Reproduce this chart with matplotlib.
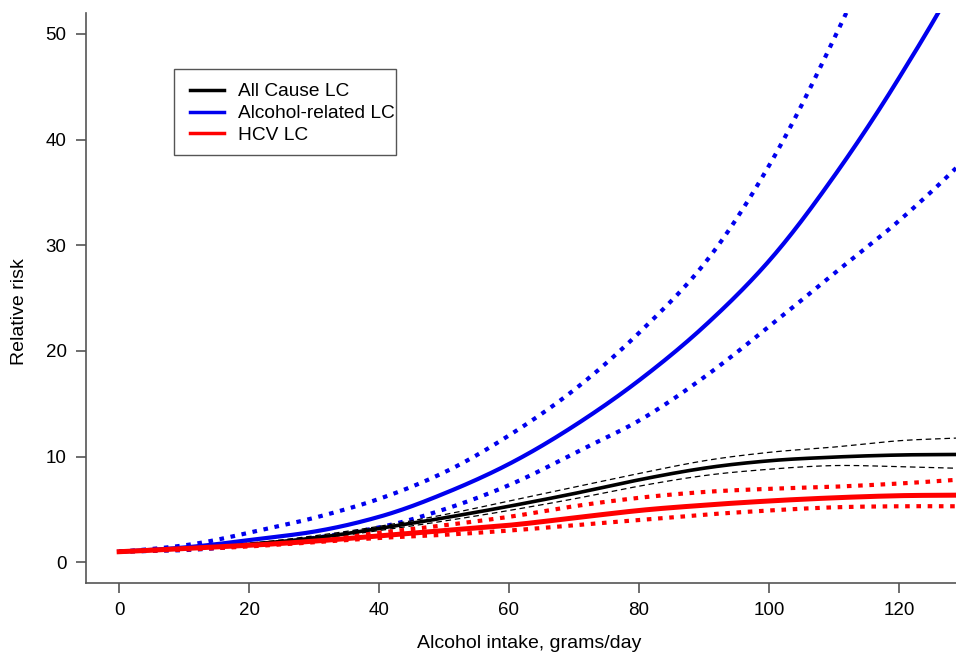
import numpy as np
import matplotlib
matplotlib.use("Agg")
import matplotlib.pyplot as plt
from matplotlib.patches import Rectangle

plt.rcParams['font.family'] = ['Liberation Sans', 'DejaVu Sans']

# alcohol intake (grams/day)
x_pts = [0, 10, 20, 30, 40, 50, 60, 70, 80, 90, 100, 110, 120, 128.8]

# Alcohol-related LC: estimate, upper and lower bounds
alc_rr = [1, 1.4, 2.1, 2.9, 4.3, 6.5, 9.3, 12.9, 17.2, 22.3, 28.5, 36.5, 45.8, 55.0]
alc_hi = [1, 1.6, 2.8, 4.2, 6.0, 8.5, 12.0, 16.3, 21.7, 28.2, 37.5, 49.5, 63.0, 76.0]
alc_lo = [1, 1.15, 1.6, 2.3, 3.3, 5.0, 7.3, 10.3, 13.4, 17.5, 22.3, 27.3, 32.3, 37.3]

# All cause LC
all_rr = [1, 1.3, 1.7, 2.3, 3.2, 4.2, 5.3, 6.5, 7.8, 8.9, 9.6, 9.95, 10.15, 10.2]
all_hi = [1, 1.35, 1.8, 2.5, 3.4, 4.5, 5.8, 7.1, 8.4, 9.6, 10.4, 10.9, 11.5, 11.75]
all_lo = [1, 1.25, 1.6, 2.2, 3.0, 3.9, 4.9, 6.0, 7.2, 8.2, 8.8, 9.15, 9.05, 8.9]

# HCV LC
hcv_rr = [1, 1.3, 1.6, 2.0, 2.5, 3.0, 3.5, 4.2, 4.9, 5.4, 5.8, 6.1, 6.3, 6.35]
hcv_hi = [1, 1.35, 1.7, 2.2, 2.8, 3.5, 4.3, 5.3, 6.1, 6.65, 6.95, 7.15, 7.45, 7.8]
hcv_lo = [1, 1.2, 1.5, 1.9, 2.3, 2.6, 3.0, 3.5, 4.0, 4.5, 4.9, 5.2, 5.3, 5.3]

legend_labels = ['All Cause LC', 'Alcohol-related LC', 'HCV LC']
x_ticks = [0, 20, 40, 60, 80, 100, 120]
y_ticks = [0, 10, 20, 30, 40, 50]


def smooth(xp, yp):
    # cubic hermite through the points, on a log scale
    xp = np.asarray(xp, float)
    ly = np.log(yp)
    xs = np.linspace(xp[0], xp[-1], 400)
    out = np.interp(xs, xp, ly)
    n = len(xp)
    for i in range(n - 1):
        m = (xs >= xp[i]) & (xs <= xp[i + 1])
        h = xp[i + 1] - xp[i]
        t = (xs[m] - xp[i]) / h
        d0 = (ly[min(i + 1, n - 1)] - ly[max(i - 1, 0)]) / (xp[min(i + 1, n - 1)] - xp[max(i - 1, 0)]) * h
        d1 = (ly[min(i + 2, n - 1)] - ly[i]) / (xp[min(i + 2, n - 1)] - xp[i]) * h
        h00 = 2 * t**3 - 3 * t**2 + 1
        h10 = t**3 - 2 * t**2 + t
        h01 = -2 * t**3 + 3 * t**2
        h11 = t**3 - t**2
        out[m] = h00 * ly[i] + h10 * d0 + h01 * ly[i + 1] + h11 * d1
    return xs, np.exp(out)


W, H = 956, 662
fig = plt.figure(figsize=(W / 100, H / 100), dpi=100)
ax = fig.add_axes([86 / W, 1 - 583 / H, 1 - 86 / W, (583 - 12.7) / H])

blue = '#0000ee'
red = '#ff0000'
dots = (0, (1.1, 1.6))

ax.plot(*smooth(x_pts, alc_hi), color=blue, lw=3, ls=dots)
ax.plot(*smooth(x_pts, alc_lo), color=blue, lw=3, ls=dots)
ax.plot(*smooth(x_pts, all_hi), color='black', lw=0.9, ls=(0, (4.5, 3)))
ax.plot(*smooth(x_pts, all_lo), color='black', lw=0.9, ls=(0, (4.5, 3)))
ax.plot(*smooth(x_pts, hcv_hi), color=red, lw=3, ls=dots)
ax.plot(*smooth(x_pts, hcv_lo), color=red, lw=3, ls=dots)
ax.plot(*smooth(x_pts, all_rr), color='black', lw=2.6, label=legend_labels[0])
ax.plot(*smooth(x_pts, alc_rr), color=blue, lw=3, label=legend_labels[1])
ax.plot(*smooth(x_pts, hcv_rr), color=red, lw=3.6, label=legend_labels[2])

ax.set_xlim(-5.1, 128.8)
ax.set_ylim(-1.96, 52.0)
ax.set_xticks(x_ticks)
ax.set_yticks(y_ticks)

for s in ['top', 'right']:
    ax.spines[s].set_visible(False)
for s in ['left', 'bottom']:
    ax.spines[s].set_color('#555555')
    ax.spines[s].set_linewidth(1.2)
ax.tick_params(length=7, width=1.2, color='#555555', labelsize=13.5, pad=7)

fig.text(529 / W, 1 - 643 / H, 'Alcohol intake, grams/day', ha='center', va='center', fontsize=14)
fig.text(20 / W, 1 - 312 / H, 'Relative risk', ha='center', va='center', rotation=90, fontsize=14)

# legend without frame, box drawn separately (R style, tight on the right)
leg = ax.legend(loc='upper left', bbox_to_anchor=(190 / W, 1 - 83 / H),
                bbox_transform=fig.transFigure, frameon=False, fontsize=13.8,
                handlelength=1.75, labelspacing=0.23, borderpad=0,
                handletextpad=0.75, borderaxespad=0)
for line in leg.get_lines():
    line.set_linewidth(2.5)
fig.add_artist(Rectangle((174 / W, 1 - 155 / H), (396 - 174) / W, (155 - 69) / H,
                         transform=fig.transFigure, fill=False,
                         edgecolor='#555555', lw=1.0))

fig.savefig('out.png', dpi=100)
